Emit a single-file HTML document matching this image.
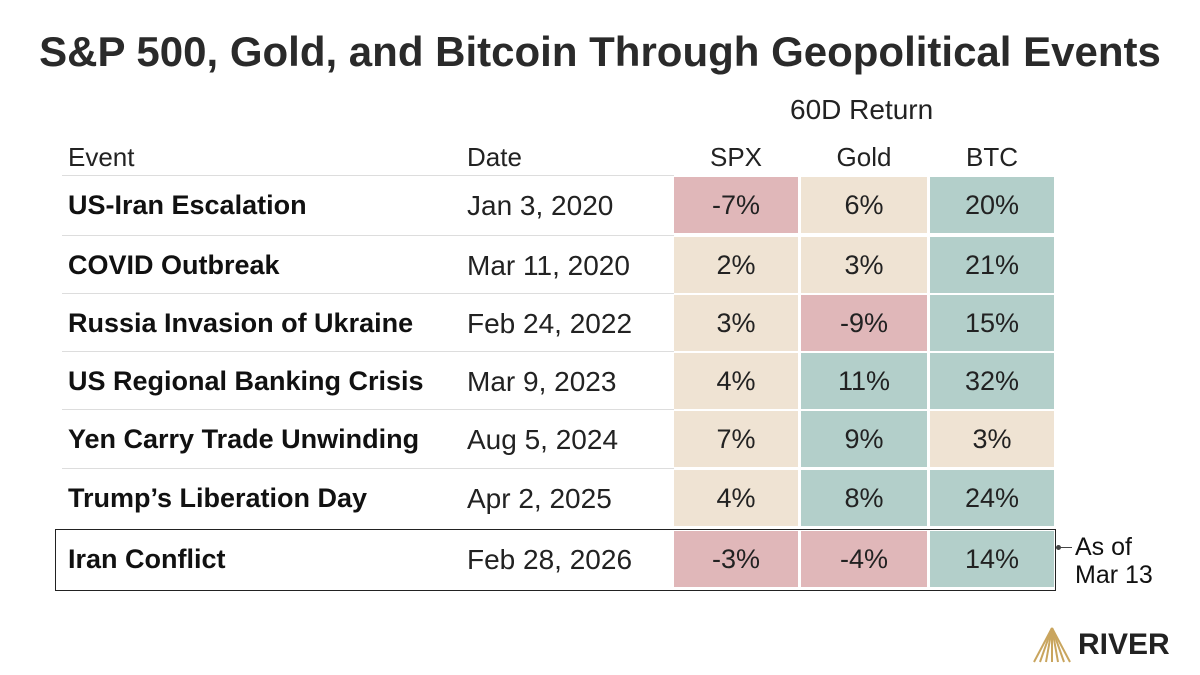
<!DOCTYPE html>
<html><head><meta charset="utf-8"><style>
body{margin:0;width:1200px;height:675px;background:#fff;position:relative;font-family:"Liberation Sans",sans-serif;color:#111;overflow:hidden}
.a{position:absolute;white-space:nowrap}
.t{left:0;width:1174px;text-align:center;top:28px;font-size:42px;font-weight:bold;color:#2a2a2a;left:13px}
.h{font-size:26px;color:#222}
.ev{left:68px;font-size:27px;font-weight:bold;line-height:57px}
.dt{left:467px;font-size:28px;line-height:57px;color:#222}
.c{font-size:27px;text-align:center;line-height:56px;height:56px;color:#222}
.r{background:#e0b7b9}.b{background:#efe3d3}.g{background:#b3cfca}
.ln{left:62px;width:612px;height:1px;background:#ddd}
</style></head><body>
<div class="a t">S&amp;P 500, Gold, and Bitcoin Through Geopolitical Events</div>
<div class="a h" style="left:790px;top:94px;font-size:28px">60D Return</div>
<div class="a h" style="left:68px;top:142px">Event</div>
<div class="a h" style="left:467px;top:142px">Date</div>
<div class="a h" style="left:674px;width:124px;text-align:center;top:142px">SPX</div>
<div class="a h" style="left:801px;width:126px;text-align:center;top:142px">Gold</div>
<div class="a h" style="left:930px;width:124px;text-align:center;top:142px">BTC</div>

<div class="a ln" style="top:175px"></div>
<div class="a ln" style="top:235px"></div>
<div class="a ln" style="top:293px"></div>
<div class="a ln" style="top:351px"></div>
<div class="a ln" style="top:409px"></div>
<div class="a ln" style="top:468px"></div>

<div class="a ev" style="top:177px">US-Iran Escalation</div><div class="a dt" style="top:177px">Jan 3, 2020</div>
<div class="a c r" style="top:177px;left:674px;width:124px">-7%</div><div class="a c b" style="top:177px;left:801px;width:126px">6%</div><div class="a c g" style="top:177px;left:930px;width:124px">20%</div>

<div class="a ev" style="top:237px">COVID Outbreak</div><div class="a dt" style="top:237px">Mar 11, 2020</div>
<div class="a c b" style="top:237px;left:674px;width:124px">2%</div><div class="a c b" style="top:237px;left:801px;width:126px">3%</div><div class="a c g" style="top:237px;left:930px;width:124px">21%</div>

<div class="a ev" style="top:295px">Russia Invasion of Ukraine</div><div class="a dt" style="top:295px">Feb 24, 2022</div>
<div class="a c b" style="top:295px;left:674px;width:124px">3%</div><div class="a c r" style="top:295px;left:801px;width:126px">-9%</div><div class="a c g" style="top:295px;left:930px;width:124px">15%</div>

<div class="a ev" style="top:353px">US Regional Banking Crisis</div><div class="a dt" style="top:353px">Mar 9, 2023</div>
<div class="a c b" style="top:353px;left:674px;width:124px">4%</div><div class="a c g" style="top:353px;left:801px;width:126px">11%</div><div class="a c g" style="top:353px;left:930px;width:124px">32%</div>

<div class="a ev" style="top:411px">Yen Carry Trade Unwinding</div><div class="a dt" style="top:411px">Aug 5, 2024</div>
<div class="a c b" style="top:411px;left:674px;width:124px">7%</div><div class="a c g" style="top:411px;left:801px;width:126px">9%</div><div class="a c b" style="top:411px;left:930px;width:124px">3%</div>

<div class="a ev" style="top:470px">Trump’s Liberation Day</div><div class="a dt" style="top:470px">Apr 2, 2025</div>
<div class="a c b" style="top:470px;left:674px;width:124px">4%</div><div class="a c g" style="top:470px;left:801px;width:126px">8%</div><div class="a c g" style="top:470px;left:930px;width:124px">24%</div>

<div class="a" style="left:55px;top:529px;width:999px;height:60px;border:1.5px solid #222"></div>
<div class="a ev" style="top:531px">Iran Conflict</div><div class="a dt" style="top:531px">Feb 28, 2026</div>
<div class="a c r" style="top:531px;left:674px;width:124px">-3%</div><div class="a c r" style="top:531px;left:801px;width:126px">-4%</div><div class="a c g" style="top:531px;left:930px;width:124px">14%</div>

<div class="a" style="left:1056px;top:545px;width:5px;height:5px;border-radius:50%;background:#444"></div>
<div class="a" style="left:1058px;top:547px;width:14px;height:1px;background:#444"></div>
<div class="a" style="left:1075px;top:533px;font-size:25px;line-height:28px;color:#111">As of<br>Mar 13</div>

<svg class="a" style="left:1032px;top:626px" width="40" height="38" viewBox="0 0 40 38">
<g stroke="#c9a55e" stroke-width="2" fill="none">
<path d="M20 2 L2 36"/><path d="M20 2 L8 36"/><path d="M20 2 L14 36"/><path d="M20 2 L20 36"/><path d="M20 2 L26 36"/><path d="M20 2 L32 36"/><path d="M20 2 L38 36"/></g></svg>
<div class="a" style="left:1078px;top:628px;font-size:30px;font-weight:bold;color:#222;letter-spacing:0px">RIVER</div>
</body></html>
